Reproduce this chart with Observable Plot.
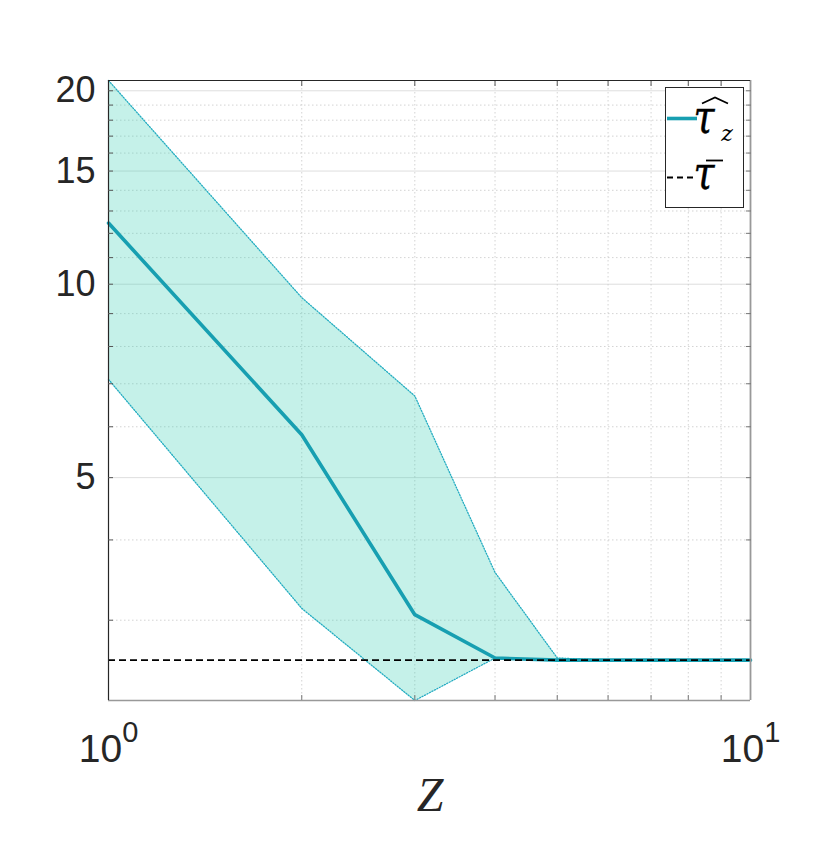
<!DOCTYPE html>
<html>
<head>
<meta charset="utf-8">
<script src="https://cdn.jsdelivr.net/npm/d3@7"></script>
<script src="https://cdn.jsdelivr.net/npm/@observablehq/plot@0.6"></script>
<style>
  html, body { margin: 0; padding: 0; background: #fff; }
  #chart svg { display: block; overflow: visible; }
</style>
</head>
<body>
<div id="chart"></div>
<script>
// ---- data ----
const zValues  = [1, 2, 3, 4, 5, 6, 7, 8, 9, 10];
const tauMean  = [12.45, 5.83, 3.06, 2.62, 2.60, 2.60, 2.60, 2.60, 2.60, 2.60];
const tauUpper = [20.75, 9.53, 6.70, 3.56, 2.62, 2.60, 2.60, 2.60, 2.60, 2.60];
const tauLower = [7.11, 3.13, 2.25, 2.62, 2.60, 2.60, 2.60, 2.60, 2.60, 2.60];
const tauBar = 2.60;

const xDomain = [1, 10];
const yDomain = [2.25, 20.75];
const xTickLabels = [1, 10];
const xMinor = [2, 3, 4, 5, 6, 7, 8, 9];
const yMajor = [5, 10, 15, 20];
const yAllTicks = [3, 4, 5, 6, 7, 8, 9, 10, 11, 12, 13, 14, 15, 16, 17, 18, 19, 20];
const yMinor = yAllTicks.filter(d => !yMajor.includes(d));

const rows = zValues.map((z, i) => ({z, mean: tauMean[i], hi: tauUpper[i], lo: tauLower[i]}));

const teal = "#179fb1";
const ink = "#262626";

const chart = Plot.plot({
  width: 830,
  height: 849,
  marginLeft: 108,
  marginRight: 80,
  marginTop: 80,
  marginBottom: 149,
  style: {fontFamily: "'Liberation Sans', Arial, sans-serif", color: ink, background: "white", overflow: "visible"},
  x: {type: "log", domain: xDomain, label: null},
  y: {type: "log", domain: yDomain, label: null},
  marks: [
    // grid
    Plot.ruleY(yMinor, {stroke: "#c8c8c8", strokeWidth: 0.8, strokeDasharray: "1.5,2.5"}),
    Plot.ruleY(yMajor, {stroke: "#dedede", strokeWidth: 1}),
    Plot.ruleX(xMinor, {stroke: "#c8c8c8", strokeWidth: 0.8, strokeDasharray: "1.5,2.5"}),
    // band
    Plot.areaY(rows, {x: "z", y1: "lo", y2: "hi", fill: "#3fcfb5", fillOpacity: 0.3}),
    Plot.line(rows, {x: "z", y: "hi", stroke: "#22acc0", strokeWidth: 1.3, strokeDasharray: "1.2,1.6"}),
    Plot.line(rows, {x: "z", y: "lo", stroke: "#22acc0", strokeWidth: 1.3, strokeDasharray: "1.2,1.6"}),
    // mean
    Plot.line(rows, {x: "z", y: "mean", stroke: teal, strokeWidth: 3.6}),
    // reference
    Plot.ruleY([tauBar], {stroke: "#000", strokeWidth: 1.8, strokeDasharray: "7,4"}),
    // box
    Plot.ruleX([xDomain[1]], {stroke: "#999", strokeWidth: 1.8}),
    Plot.ruleY([yDomain[0]], {stroke: "#999", strokeWidth: 1.4}),
    Plot.ruleX([xDomain[0]], {stroke: ink, strokeWidth: 1.2}),
    Plot.ruleY([yDomain[1]], {stroke: ink, strokeWidth: 1.2}),
    // ticks (inward)
    Plot.axisY({anchor: "left", ticks: yAllTicks, tickSize: -5, tickFormat: () => "", label: null, stroke: "#555"}),
    Plot.axisY({anchor: "right", ticks: yAllTicks, tickSize: -5, tickFormat: () => "", label: null, stroke: "#777"}),
    Plot.axisX({anchor: "bottom", ticks: xMinor, tickSize: -5, tickFormat: () => "", label: null, stroke: "#777"}),
    Plot.axisX({anchor: "top", ticks: xMinor, tickSize: -5, tickFormat: () => "", label: null, stroke: "#555"}),
    // labels
    Plot.axisY({anchor: "left", ticks: yMajor, tickSize: 0, tickPadding: 13, fontSize: 36, label: null, tickFormat: d => String(d)}),
    Plot.axisX({anchor: "bottom", ticks: xTickLabels, tickSize: 0, tickPadding: 34, fontSize: 39, label: null,
      tickFormat: d => "10^" + Math.round(Math.log10(d))})
  ]
});

document.getElementById("chart").appendChild(chart);

const svg = d3.select(chart);

// superscripts for the x tick labels
svg.selectAll("text").each(function() {
  const t = d3.select(this);
  const s = t.text();
  if (s.includes("^") && this.childElementCount === 0) {
    const [b, e] = s.split("^");
    t.text(b);
    t.append("tspan").attr("dy", -20).attr("font-size", 29).text(e);
  }
});

// x-axis title
svg.append("text")
  .attr("x", 430).attr("y", 811)
  .attr("text-anchor", "middle")
  .attr("font-family", "'Liberation Serif', 'DejaVu Serif', serif")
  .attr("font-style", "italic")
  .attr("font-size", 48)
  .attr("fill", ink)
  .text("Z");

// legend
const serif = "'DejaVu Serif', 'Liberation Serif', serif";
const lg = svg.append("g").attr("aria-label", "legend");
lg.append("rect").attr("x", 665.5).attr("y", 87.5).attr("width", 78).attr("height", 120)
  .attr("fill", "white").attr("stroke", ink).attr("stroke-width", 1);
lg.append("line").attr("x1", 667).attr("x2", 697).attr("y1", 118.5).attr("y2", 118.5)
  .attr("stroke", teal).attr("stroke-width", 3.6);
lg.append("text").attr("x", 704).attr("y", 133)
  .attr("font-family", serif).attr("font-style", "italic")
  .attr("textLength", 21).attr("lengthAdjust", "spacingAndGlyphs")
  .attr("stroke", "#000").attr("stroke-width", 0.4)
  .attr("font-size", 46).attr("fill", "#000").text("τ");
lg.append("path").attr("d", "M702,103.5 L715,97.5 L728,103.5").attr("fill", "none")
  .attr("stroke", "#000").attr("stroke-width", 1.8);
lg.append("text").attr("x", 727).attr("y", 141)
  .attr("font-family", serif).attr("font-style", "italic")
  .attr("font-size", 22).attr("fill", "#000").text("z");
lg.append("line").attr("x1", 667).attr("x2", 697).attr("y1", 177.5).attr("y2", 177.5)
  .attr("stroke", "#000").attr("stroke-width", 2).attr("stroke-dasharray", "6,4");
lg.append("line").attr("x1", 706).attr("x2", 723).attr("y1", 160.5).attr("y2", 160.5)
  .attr("stroke", "#000").attr("stroke-width", 1.8);
lg.append("text").attr("x", 704).attr("y", 189)
  .attr("font-family", serif).attr("font-style", "italic")
  .attr("textLength", 21).attr("lengthAdjust", "spacingAndGlyphs")
  .attr("stroke", "#000").attr("stroke-width", 0.4)
  .attr("font-size", 46).attr("fill", "#000").text("τ");
</script>
</body>
</html>
